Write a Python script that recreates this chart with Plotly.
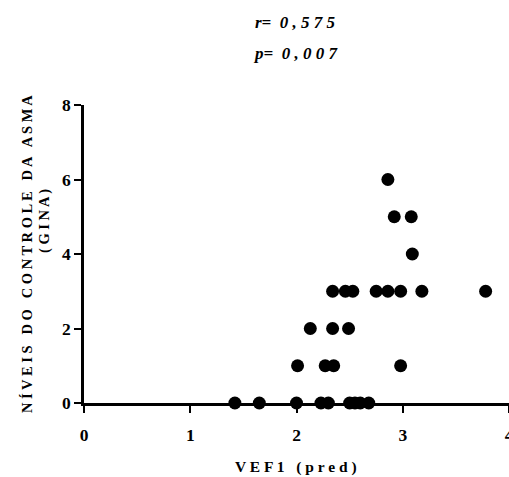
import plotly.graph_objects as go

vef1_pred = [1.42, 1.65, 2.0, 2.23, 2.3, 2.5, 2.55, 2.6, 2.68,
             2.01, 2.27, 2.35, 2.98,
             2.13, 2.34, 2.49,
             2.34, 2.46, 2.53, 2.75, 2.86, 2.98, 3.18, 3.78,
             3.09,
             2.92, 3.08,
             2.86]
gina_level = [0, 0, 0, 0, 0, 0, 0, 0, 0,
              1, 1, 1, 1,
              2, 2, 2,
              3, 3, 3, 3, 3, 3, 3, 3,
              4,
              5, 5,
              6]
x_ticks = [0, 1, 2, 3, 4]
y_ticks = [0, 2, 4, 6, 8]
stats_lines = [("r=", "0,575"), ("p=", "0,007")]
x_title = "VEF1 (pred)"
y_title_main = "NÍVEIS DO CONTROLE DA ASMA"
y_title_sub = "(GINA)"

def spaced(s):
    return " ".join(s)

FONT = "Liberation Serif, Times New Roman, serif"

fig = go.Figure()
fig.add_trace(go.Scatter(
    x=vef1_pred, y=gina_level, mode="markers",
    marker=dict(size=13, color="black"),
    cliponaxis=False, showlegend=False, hoverinfo="skip",
))

axis_common = dict(
    showgrid=False, zeroline=False, showline=True, linecolor="black", linewidth=2.7,
    ticks="outside", ticklen=7, tickwidth=2, tickcolor="black",
    tickfont=dict(family=FONT, size=17.5, color="black", weight="bold"),
    ticklabeloverflow="allow",
)
fig.update_xaxes(range=[0, 4], tickvals=x_ticks, ticklabelstandoff=7, **axis_common)
fig.update_yaxes(range=[0, 8], tickvals=y_ticks, ticklabelstandoff=0, **axis_common)

fig.update_layout(
    width=509, height=477,
    margin=dict(l=84, r=0, t=105, b=74, autoexpand=False),
    plot_bgcolor="white", paper_bgcolor="white",
)

for i, (lab, val) in enumerate(stats_lines):
    fig.add_annotation(
        text="<b><i>" + lab + "  " + spaced(val) + "</i></b>",
        xref="paper", yref="paper", x=(295 - 84) / 425, y=1 + (105 - 22 - 31 * i) / 298,
        showarrow=False, font=dict(family=FONT, size=17, color="black"),
        xanchor="center", yanchor="middle",
    )

fig.add_annotation(
    text="<b>" + spaced(x_title) + "</b>",
    xref="paper", yref="paper", x=(296 - 84) / 425, y=-(467 - 403) / 298,
    showarrow=False, font=dict(family=FONT, size=15.5, color="black"),
    xanchor="center", yanchor="middle",
)
fig.add_annotation(
    text="<b>" + spaced(y_title_main) + "</b>",
    xref="paper", yref="paper", x=-(84 - 27) / 425, y=(403 - 254) / 298,
    showarrow=False, textangle=-90, font=dict(family=FONT, size=14.5, color="black"),
    xanchor="center", yanchor="middle",
)
fig.add_annotation(
    text="<b>" + spaced(y_title_sub) + "</b>",
    xref="paper", yref="paper", x=-(84 - 44) / 425, y=(403 - 221) / 298,
    showarrow=False, textangle=-90, font=dict(family=FONT, size=14.5, color="black"),
    xanchor="center", yanchor="middle",
)

fig.write_html("out.html", config={"displayModeBar": False},
               post_script="document.body.style.margin='0';document.body.style.overflow='hidden';")
